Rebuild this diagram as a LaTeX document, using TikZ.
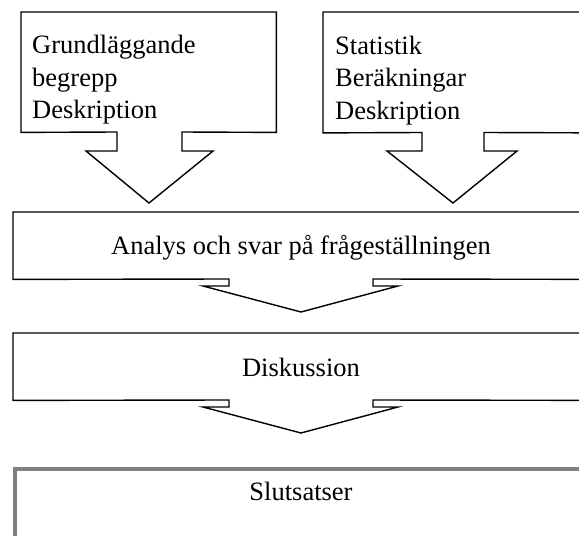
\documentclass[tikz,border=0pt]{standalone}
\usepackage{fontspec}
\setmainfont{Liberation Serif}
\begin{document}
\begin{tikzpicture}[x=1pt,y=-1pt,
  boxarea/.style={draw=none,rectangle,inner sep=0pt,anchor=north west},
  outline/.style={draw=black,line width=1.4pt,line join=miter},
  finalline/.style={draw=black!50,line width=4pt},
  lbl/.style={inner sep=0pt,font=\fontsize{26.5}{32}\selectfont}]
\useasboundingbox (0,0) rectangle (579,536);
\clip (0,0) rectangle (579,536);
\fill[white] (0,0) rectangle (579,536);

% box 1 with arrow
\node[boxarea,minimum width=255pt,minimum height=120pt] (b1) at (21,12) {};
\draw[outline] (117,132) -- (b1.south west) -- (b1.north west) -- (b1.north east) -- (b1.south east)
  -- (182,132) -- (182,151) -- (213,151) -- (149,203) coordinate (t1) -- (86,151) -- (117,151) -- cycle;
\node[lbl,anchor=base west] (g1) at (32,53.5) {Grundläggande};
\node[lbl,anchor=base west] (g2) at (32,86) {begrepp};
\node[lbl,anchor=base west] (g3) at (32,118.5) {Deskription};

% box 2 with arrow
\node[boxarea,minimum width=280pt,minimum height=120.5pt] (b2) at (323,12) {};
\draw[outline] (422,132.5) -- (b2.south west) -- (b2.north west) -- (b2.north east) -- (b2.south east)
  -- (484,132.5) -- (484,151) -- (517,151) -- (453,203) coordinate (t2) -- (387,151) -- (422,151) -- cycle;
\node[lbl,anchor=base west] (s1) at (335,54) {Statistik};
\node[lbl,anchor=base west] (s2) at (335,86.5) {Beräkningar};
\node[lbl,anchor=base west] (s3) at (335,119) {Deskription};

% box 3 with arrow
\node[boxarea,minimum width=600pt,minimum height=67pt] (b3) at (13,212) {};
\draw[outline] (229,279) -- (b3.south west) -- (b3.north west) -- (b3.north east) -- (b3.south east)
  -- (373,279) -- (373,286) -- (398,286) -- (301,312) coordinate (t3) -- (203,286) -- (229,286) -- cycle;
\node[lbl,anchor=base] (a1) at (301,254) {Analys och svar på frågeställningen};

% box 4 with arrow
\node[boxarea,minimum width=600pt,minimum height=67pt] (b4) at (13,333) {};
\draw[outline] (229,400) -- (b4.south west) -- (b4.north west) -- (b4.north east) -- (b4.south east)
  -- (373,400) -- (373,407) -- (398,407) -- (301,433) coordinate (t4) -- (203,407) -- (229,407) -- cycle;
\node[lbl,anchor=base] (d1) at (301,376) {Diskussion};

% box 5
\node[boxarea,minimum width=600pt,minimum height=120pt,finalline] (b5) at (13,467) {};
\node[lbl,anchor=base] (e1) at (301,500) {Slutsatser};
\end{tikzpicture}
\end{document}
